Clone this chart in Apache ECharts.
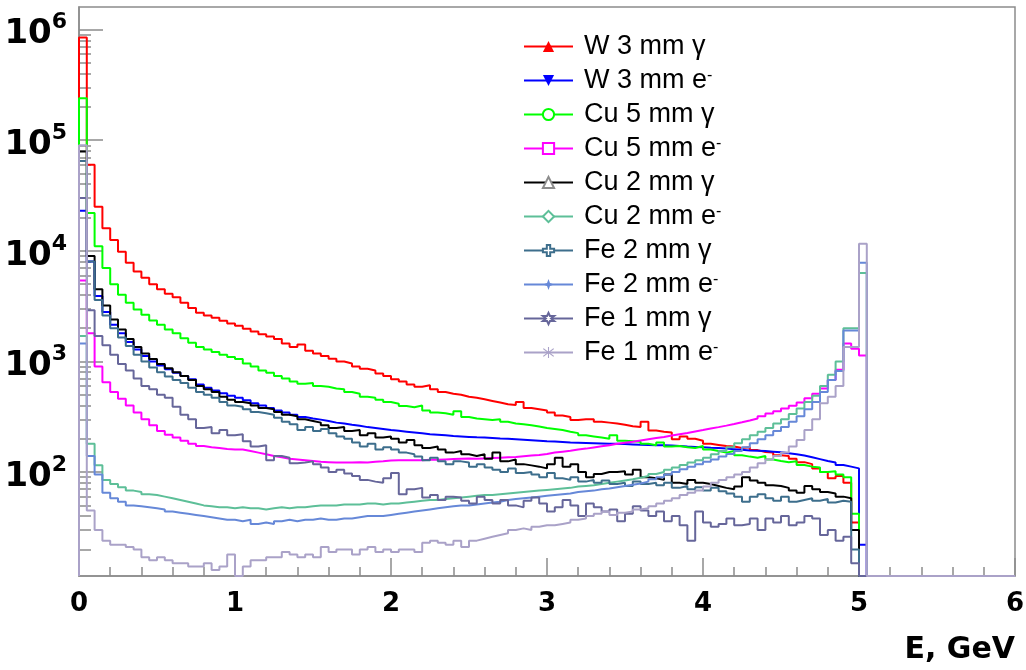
<!DOCTYPE html>
<html>
<head>
<meta charset="utf-8">
<script src="https://cdn.jsdelivr.net/npm/echarts@6/dist/echarts.min.js"></script>
<style>
  html, body { margin: 0; padding: 0; background: #fff; }
  #chart { width: 1026px; height: 670px; }
</style>
</head>
<body>
<div id="chart"></div>
<script>
//****** 数据 ******//
// bin width 0.05 GeV, bin i covers [0.05*i, 0.05*(i+1)], 0 = empty bin
var BIN = 0.05;
var NBINS = 120;

var names = ["W 3 mm γ", "W 3 mm e-", "Cu 5 mm γ", "Cu 5 mm e-", "Cu 2 mm γ",
  "Cu 2 mm e-", "Fe 2 mm γ", "Fe 2 mm e-", "Fe 1 mm γ", "Fe 1 mm e-"];

var w3_gamma = [850000,60000,25000,16000,12500,9800,7800,6500,5700,5000,
  4500,4100,3800,3400,3050,2750,2600,2480,2330,2200,
  2100,1980,1870,1760,1680,1600,1450,1350,1420,1250,
  1180,1120,1060,1000,960,900,860,830,780,740,
  690,660,620,590,610,560,530,510,500,480,
  470,455,440,425,410,405,430,380,370,360,
  345,325,315,295,300,300,285,280,275,268,
  260,255,285,238,232,228,198,210,200,192,
  180,176,172,170,165,168,158,152,150,142,
  140,132,123,118,108,100,88,92,80,35,
  0];
var w3_elec = [23000,8000,3900,2800,2150,1800,1500,1280,1120,1000,
  920,850,790,740,690,620,580,545,515,490,
  470,445,420,400,380,360,345,330,315,305,
  298,290,280,275,268,262,255,250,245,240,
  236,232,228,224,220,218,215,212,210,208,
  206,205,203,201,200,198,196,194,192,190,
  189,187,185,184,183,182,181,180,180,179,
  178,177,176,175,175,174,172,170,169,168,
  166,165,163,161,159,157,156,155,153,151,
  148,145,141,136,131,126,122,116,112,108,
  22];
var cu5_gamma = [240000,22000,11000,7000,5000,4000,3400,2950,2650,2350,
  2150,1950,1800,1620,1480,1350,1280,1220,1150,1100,
  1050,960,900,830,790,740,700,660,630,640,
  600,590,570,560,530,510,480,470,450,430,
  415,395,385,400,360,345,340,330,355,315,
  305,300,295,300,285,275,270,265,258,250,
  245,240,232,225,215,210,205,200,215,192,
  190,188,180,175,185,170,172,168,165,172,
  160,155,150,155,142,138,135,140,130,126,
  123,125,116,112,110,100,102,95,90,42,
  0];
var cu5_elec = [5400,1800,900,650,530,460,400,345,300,265,
  235,218,205,192,180,172,168,165,162,160,
  160,155,150,145,140,136,132,130,128,126,
  124,123,122,122,122,123,122,124,125,127,
  128,128,128,128,129,129,130,131,132,133,
  132,133,134,135,136,137,139,141,143,146,
  150,153,156,160,163,167,171,175,180,184,
  188,193,198,203,208,214,220,226,233,240,
  248,255,263,272,282,293,305,320,338,355,
  375,398,425,465,510,570,680,840,1450,1300,
  1130];
var cu2_gamma = [79000,9000,4500,3200,2400,1950,1600,1350,1180,1050,
  950,870,800,740,680,600,560,530,480,450,
  430,420,400,380,370,350,330,320,300,290,
  280,265,250,255,235,240,215,225,205,210,
  200,185,195,175,165,170,160,150,155,145,
  140,145,132,150,125,130,118,115,112,108,
  118,135,112,118,100,90,96,100,100,102,
  95,105,90,88,85,95,80,78,85,80,
  78,75,72,70,74,90,84,80,76,75,
  72,68,65,75,70,66,64,60,58,30,
  0];
var cu2_elec = [1700,180,115,85,78,73,68,66,63,62,
  60,58,56,54,52,50,49,48,48,47,
  48,47,47,46,47,48,47,48,48,49,
  50,50,50,51,51,51,52,52,51,52,
  52,53,54,55,56,56,57,58,59,60,
  61,62,62,63,64,65,66,67,68,69,
  70,71,72,74,75,76,78,80,82,84,
  86,89,92,96,100,105,110,116,122,128,
  135,145,155,168,182,198,215,232,250,275,
  300,335,375,430,490,600,760,1000,2000,2000,
  6300];
var fe2_gamma = [65000,8000,3600,2600,2000,1650,1380,1150,1000,880,
  800,730,680,640,580,530,500,470,430,400,
  390,370,350,340,330,310,285,270,240,255,
  235,245,225,210,200,185,170,180,160,168,
  160,150,145,138,128,135,125,118,125,122,
  112,118,110,105,100,108,98,100,95,90,
  98,88,85,90,82,85,80,84,78,80,
  75,82,78,80,76,80,72,75,70,73,
  68,72,67,64,60,54,60,63,58,55,
  60,54,56,58,55,57,53,55,54,20,
  0];
var fe2_elec = [1450,140,95,65,58,54,50,49,48,47,
  46,44,43,42,41,40,39,38,37,37,
  36,37,34,35,34,36,37,36,37,37,
  38,37,37,38,38,39,40,40,40,41,
  42,43,44,45,46,47,48,49,50,50,
  51,52,53,54,56,57,58,59,60,61,
  62,63,64,66,67,68,70,71,73,75,
  77,79,82,86,90,95,100,106,112,118,
  124,130,138,146,155,168,182,198,215,235,
  255,285,320,370,430,530,680,820,1900,1900,
  7800];
var fe1_gamma = [30000,2900,1700,1400,1150,950,830,700,600,560,
  500,470,390,330,300,250,255,225,240,215,
  220,190,170,175,128,140,135,120,122,125,
  118,110,100,105,97,92,85,82,80,88,
  98,63,70,72,59,62,56,60,59,55,
  52,60,56,52,56,50,48,55,59,52,
  44,48,56,50,40,52,48,44,46,36,
  42,49,45,40,44,36,40,33,24,44,
  35,32,34,38,33,34,38,30,38,35,
  40,33,35,40,38,27,30,24,26,15,
  0];
var fe1_elec = [90000,45,30,24,22,22,21,20,17,16,
  17,16,15,15,14,14,15,13,14,18,
  0,14,16,16,17,17,19,18,17,18,
  17,21,19,20,20,18,20,21,19,20,
  19,20,20,19,23,24,23,22,24,21,
  24,25,26,27,28,30,31,30,32,33,
  33,34,35,37,38,40,42,44,41,43,
  44,46,47,49,52,55,58,62,65,68,
  74,80,85,90,95,100,110,120,130,140,
  150,170,195,240,300,420,480,600,1350,1350,
  11600];

var x_ticks = [0, 1, 2, 3, 4, 5, 6];
var y_decades = [2, 3, 4, 5, 6];

//****** 样式 ******//
var YMIN = 11.5;
var YMAX = 1.6e6;
var FRAME = "#8c8c8c";

var all_data = [w3_gamma, w3_elec, cu5_gamma, cu5_elec, cu2_gamma,
  cu2_elec, fe2_gamma, fe2_elec, fe1_gamma, fe1_elec];
var line_colors = ["#ff0000", "#0000ff", "#00ff00", "#ff00ff", "#000000",
  "#5dbf98", "#3d6e8c", "#6688d8", "#66669a", "#aaa2c8"];
var symbols = [
  "triangle",
  "path://M0,0L10,0L5,9Z",
  "emptyCircle",
  "emptyRect",
  "emptyTriangle",
  "emptyDiamond",
  "path://M3.5,0H6.5V3.5H10V6.5H6.5V10H3.5V6.5H0V3.5H3.5Z",
  "path://M5,0L6.3,3.7L10,5L6.3,6.3L5,10L3.7,6.3L0,5L3.7,3.7Z",
  "path://M5,0L6.3,2.8L10,2.8L7.3,5L10,7.2L6.3,7.2L5,10L3.7,7.2L0,7.2L2.7,5L0,2.8L3.7,2.8Z",
  "path://M4.6,0H5.4V4.2L8.6,1.2L9.2,1.8L5.8,5L9.2,8.2L8.6,8.8L5.4,5.8V10H4.6V5.8L1.4,8.8L0.8,8.2L4.2,5L0.8,1.8L1.4,1.2L4.6,4.2Z"
];
// open symbols: white fill + border; empty* builtins use the colour as stroke
var symbol_fill = [null, null, null, null, "#8c8c8c", null, "#fff", null, "#fff", null];

function histPoints(arr) {
  var pts = [[0, YMIN]];
  for (var i = 0; i < NBINS; i++) {
    var v = i < arr.length ? arr[i] : 0;
    pts.push([+(i * BIN).toFixed(2), v > 0 ? v : YMIN]);
  }
  pts.push([6, YMIN]);
  return pts;
}

var series = [];
for (var k = 0; k < names.length; k++) {
  var fill = symbol_fill[k] || line_colors[k];
  series.push({
    name: names[k],
    type: "line",
    step: "end",
    data: histPoints(all_data[k]),
    yAxisIndex: 0,
    symbol: symbols[k],
    showSymbol: false,
    silent: true,
    clip: true,
    lineStyle: { color: line_colors[k], width: 2 },
    itemStyle: {
      color: fill,
      borderColor: line_colors[k],
      borderWidth: symbol_fill[k] === "#fff" ? 1.2 : 0
    }
  });
}

var major_ticks = y_decades.slice();
var minor_ticks = [];
for (var n = 1; n <= 6; n++) {
  for (var m = 2; m <= 9; m++) {
    var v = m * Math.pow(10, n);
    if (v > YMIN && v < YMAX) minor_ticks.push(Math.log10(v));
  }
}

var label_font = "DejaVu Sans";

var chart = echarts.init(document.getElementById("chart"), null, { renderer: "canvas" });
var option = {
  animation: false,
  backgroundColor: "#fff",
  grid: {
    left: 79, right: 11, top: 7, bottom: 94,
    show: true, borderColor: FRAME, borderWidth: 1.5,
    outerBoundsMode: "none"
  },
  title: {
    text: "E, GeV",
    right: 11,
    top: 635,
    padding: 0,
    textStyle: { fontFamily: label_font, fontWeight: "bold", fontSize: 30, color: "#000" }
  },
  legend: {
    orient: "vertical",
    left: 523,
    top: 33,
    padding: 0,
    itemWidth: 49,
    itemHeight: 14,
    itemGap: 7,
    selectedMode: false,
    data: names,
    formatter: function (name) {
      if (name.slice(-1) === "-") return "{t|" + name.slice(0, -1) + "}{m|-}";
      return "{t|" + name + "}";
    },
    textStyle: {
      color: "#000",
      rich: {
        t: { fontFamily: "Liberation Sans", fontSize: 27, lineHeight: 24, color: "#000", padding: [0, 0, 0, 6] },
        m: { fontFamily: "Liberation Sans", fontSize: 16, color: "#000", verticalAlign: "top", padding: [0, 0, 10, 0] }
      }
    }
  },
  xAxis: {
    type: "value",
    min: 0,
    max: 6,
    interval: 1,
    axisLine: { show: true, lineStyle: { color: FRAME, width: 1.5 } },
    axisTick: { show: true, inside: true, length: 18, lineStyle: { color: FRAME, width: 1.5 } },
    minorTick: { show: true, splitNumber: 5, length: 9, lineStyle: { color: FRAME, width: 1.5 } },
    axisLabel: {
      customValues: x_ticks,
      fontFamily: label_font, fontWeight: "bold", fontSize: 26, color: "#000", margin: 15
    },
    splitLine: { show: false },
    minorSplitLine: { show: false }
  },
  yAxis: [
    {
      type: "log",
      logBase: 10,
      min: YMIN,
      max: YMAX,
      axisLine: { show: true, lineStyle: { color: FRAME, width: 1.5 } },
      axisTick: { show: false },
      axisLabel: { show: false },
      splitLine: { show: false }
    },
    {
      type: "value",
      min: Math.log10(YMIN),
      max: Math.log10(YMAX),
      position: "left",
      axisLine: { show: false },
      axisTick: { show: true, inside: true, length: 24, customValues: major_ticks, lineStyle: { color: FRAME, width: 1.5 } },
      axisLabel: {
        customValues: y_decades,
        margin: 12,
        formatter: function (v) { return "{b|10}{s|" + v + "}"; },
        rich: {
          b: { fontFamily: label_font, fontWeight: "bold", fontSize: 34, color: "#000", lineHeight: 36, padding: [10, 0, 0, 0] },
          s: { fontFamily: label_font, fontWeight: "bold", fontSize: 22, color: "#000", verticalAlign: "top" }
        }
      },
      splitLine: { show: false }
    },
    {
      type: "value",
      min: Math.log10(YMIN),
      max: Math.log10(YMAX),
      position: "left",
      axisLine: { show: false },
      axisTick: { show: true, inside: true, length: 12, customValues: minor_ticks, lineStyle: { color: FRAME, width: 1.5 } },
      axisLabel: { show: false },
      splitLine: { show: false }
    }
  ],
  series: series
};
chart.setOption(option);
</script>
</body>
</html>
